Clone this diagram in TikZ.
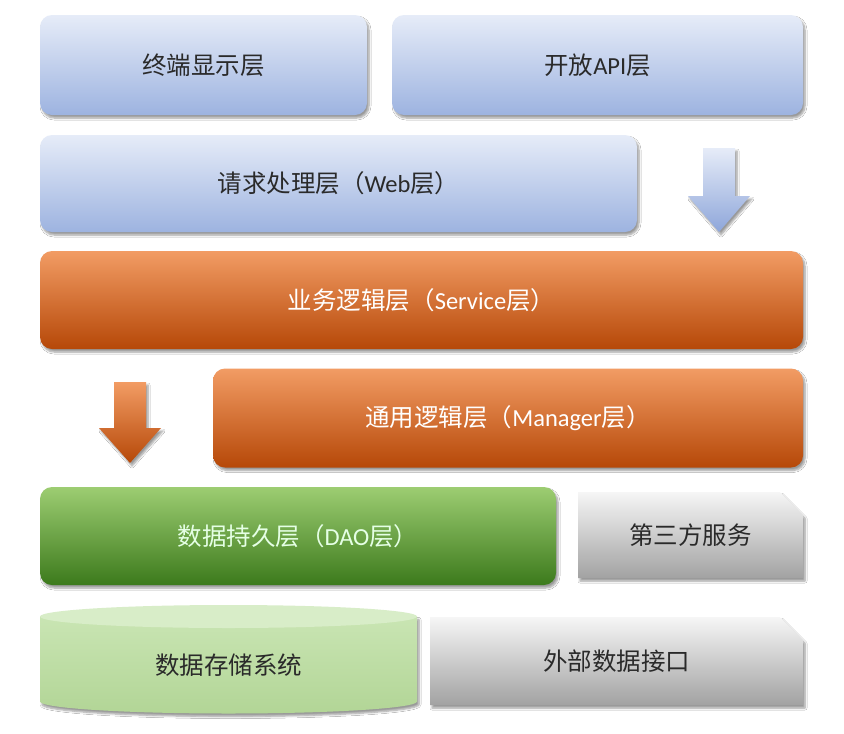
\documentclass[tikz,border=0pt]{standalone}
\usepackage{fontspec}
\setmainfont{Carlito}
\newfontfamily\cjk{Noto Sans CJK SC}
\usetikzlibrary{shadows,shadows.blur,shapes.misc}
\definecolor{txtdark}{HTML}{2A2A2A}
\tikzset{
  softshadow/.style={blur shadow={shadow blur steps=6, shadow xshift=2pt, shadow yshift=-3pt, shadow blur radius=2pt, shadow opacity=40}},
  layer/.style={rounded corners=12pt, inner sep=0pt, font=\fontsize{24.5}{28}\selectfont, softshadow},
  bluebox/.style={layer, top color=blueA, bottom color=blueB, text=txtdark},
  orangebox/.style={layer, top color=orA, middle color=orB, bottom color=orC, text=white},
  greenbox/.style={layer, top color=grA, middle color=grB, bottom color=grC, text=white!90!green},
  greybox/.style={chamfered rectangle, chamfered rectangle corners=north east, chamfered rectangle sep=12pt, inner sep=0pt, font=\fontsize{24.5}{28}\selectfont, top color=gyA, bottom color=gyB, text=txtdark, softshadow},
  blueshape/.style={top color=blueA, bottom color=blueC, softshadow},
  orangeshape/.style={top color=orA, middle color=orB, bottom color=orC, softshadow}
}
\definecolor{blueA}{HTML}{E6ECF8}
\definecolor{blueB}{HTML}{9DB3E0}
\definecolor{blueC}{HTML}{8EA6DA}
\definecolor{orA}{HTML}{F29C64}
\definecolor{orB}{HTML}{E66B22}
\definecolor{orC}{HTML}{B64808}
\definecolor{grA}{HTML}{9DCD72}
\definecolor{grB}{HTML}{60A136}
\definecolor{grC}{HTML}{3C7A1C}
\definecolor{gyA}{HTML}{F6F6F6}
\definecolor{gyB}{HTML}{A2A2A2}
\definecolor{cyA}{HTML}{C9E5B3}
\definecolor{cyB}{HTML}{B2D596}
\definecolor{cyTop}{HTML}{D8EDC8}
\begin{document}
\begin{tikzpicture}[x=1pt,y=-1pt]
\useasboundingbox[fill=white] (0,0) rectangle (844,734);

% top layers
\node[bluebox, minimum width=327pt, minimum height=100pt] (term) at (203.5,65) {\cjk 终端显示层};
\node[bluebox, minimum width=411pt, minimum height=100pt] (api) at (597.5,65) {{\cjk 开放}API{\cjk 层}};
\node[bluebox, minimum width=597pt, minimum height=97pt] (web) at (338.5,183.5) {{\cjk 请求处理层（}Web{\cjk 层）}};

% blue arrow
\path[blueshape] (703,148) -- (735,148) -- (735,196) -- (750,196) -- (719,232) -- (688,196) -- (703,196) -- cycle;

% service / manager
\node[orangebox, minimum width=763pt, minimum height=98pt] (svc) at (421.5,300) {{\cjk 业务逻辑层（}Service{\cjk 层）}};
\path[orangeshape] (114,382) -- (146,382) -- (146,428) -- (161,428) -- (130,463) -- (99,428) -- (114,428) -- cycle;
\node[orangebox, minimum width=590pt, minimum height=99pt] (mgr) at (508,418) {{\cjk 通用逻辑层（}Manager{\cjk 层）}};

% DAO and third-party
\node[greenbox, minimum width=516pt, minimum height=98pt] (dao) at (298,536) {{\cjk 数据持久层（}DAO{\cjk 层）}};
\node[greybox, minimum width=225pt, minimum height=86pt] (third) at (690.5,535) {\cjk 第三方服务};

% storage cylinder
\path[top color=cyA, bottom color=cyB, softshadow] (40,616.5) -- (40,701.5) arc[start angle=180, end angle=0, x radius=188.5, y radius=12] -- (417,616.5) -- cycle;
\fill[cyTop] (228.5,616.5) ellipse[x radius=188.5, y radius=11.5];
\node[font=\fontsize{24.5}{28}\selectfont, text=txtdark, inner sep=0pt] (store) at (228.5,665) {\cjk 数据存储系统};

\node[greybox, minimum width=373pt, minimum height=88pt] (ext) at (616.5,661) {\cjk 外部数据接口};
\end{tikzpicture}
\end{document}
